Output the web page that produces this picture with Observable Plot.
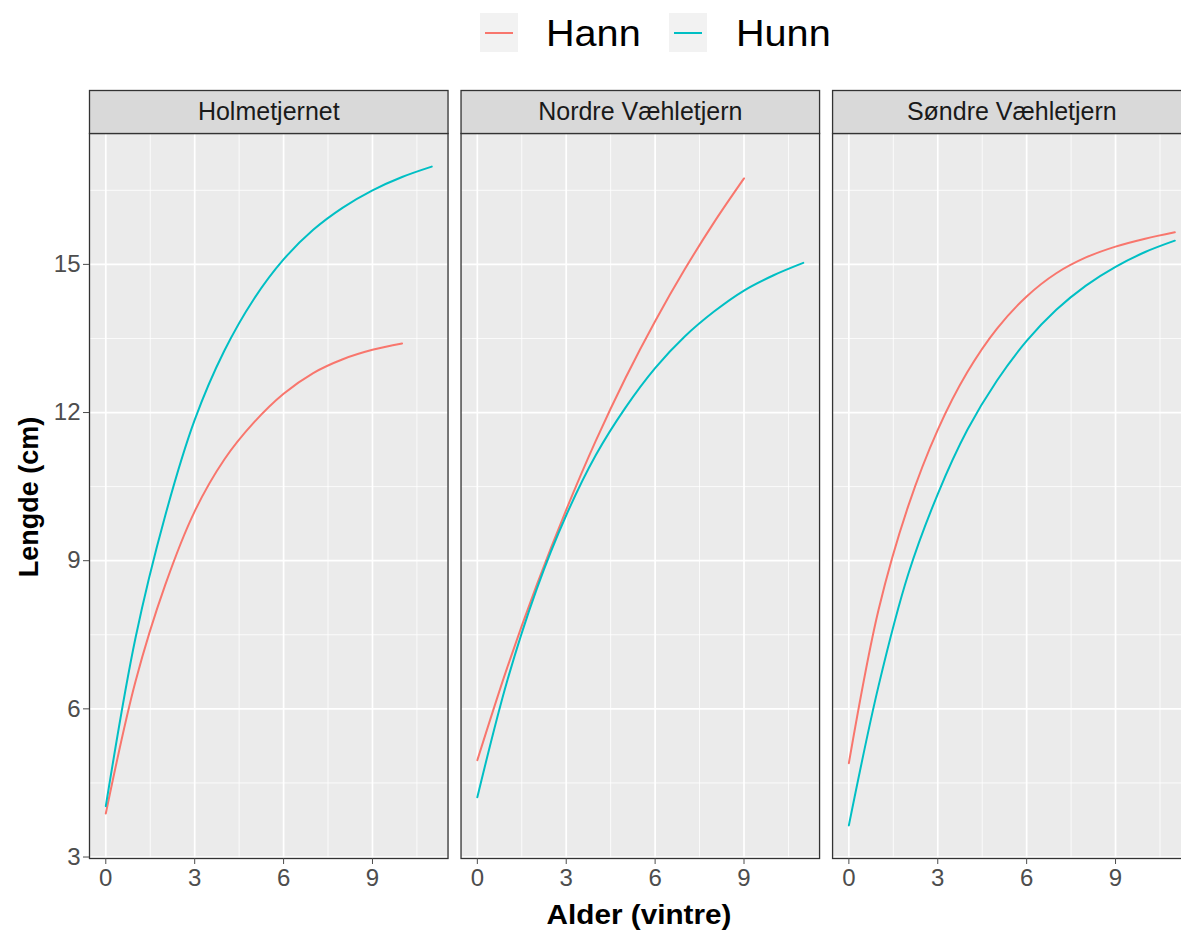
<!DOCTYPE html>
<html>
<head>
<meta charset="utf-8">
<script src="https://cdn.jsdelivr.net/npm/d3@7"></script>
<script src="https://cdn.jsdelivr.net/npm/@observablehq/plot@0.6"></script>
<style>
  html, body { margin: 0; padding: 0; background: #ffffff; }
  body { width: 1181px; height: 935px; overflow: hidden; position: relative;
         font-family: "Liberation Sans", Arial, sans-serif; }
  #chart { position: absolute; left: 0; top: 88px; width: 1200px; }
  #chart svg { max-width: none !important; }
  .legend-key { position: absolute; top: 13px; width: 38px; height: 39px; background: #F2F2F2; }
  .legend-key span { position: absolute; left: 5px; top: 18.5px; width: 28px; height: 2px; }
  .legend-label { position: absolute; top: 34px; transform: translateY(-50%) scaleX(1.1); transform-origin: left center;
                  font-size: 36px; color: #000; line-height: 1; }
  #xtitle { position: absolute; left: 639px; top: 915px; transform: translate(-50%, -50%) scaleX(1.1);
            font-size: 27px; font-weight: bold; color: #000; white-space: nowrap; }
  #ytitle { position: absolute; left: 29px; top: 497px; transform: translate(-50%, -50%) rotate(-90deg);
            font-size: 27px; font-weight: bold; color: #000; white-space: nowrap; }
</style>
</head>
<body>
<div id="legend"></div>
<div id="chart"></div>
<div id="xtitle">Alder (vintre)</div>
<div id="ytitle">Lengde (cm)</div>
<script>
// ---- data ----
const lakes = ["Holmetjernet", "Nordre Væhletjern", "Søndre Væhletjern"];
const sexes = ["Hann", "Hunn"];
const sexColors = ["#F8766D", "#00BFC4"];
const xTicks = [0, 3, 6, 9];
const yTicks = [3, 6, 9, 12, 15];
const xMinor = [1.5, 4.5, 7.5, 10.5];
const yMinor = [4.5, 7.5, 10.5, 13.5, 16.5];

const holmHannAge = [0, 1, 2, 3, 4, 5, 6, 7, 8, 9, 10];
const holmHannLen = [3.88, 6.55, 8.5, 10.0, 11.05, 11.8, 12.38, 12.8, 13.08, 13.27, 13.40];
const holmHunnAge = [0, 1, 2, 3, 4, 5, 6, 7, 8, 9, 10, 11];
const holmHunnLen = [4.03, 7.43, 9.9, 11.85, 13.25, 14.3, 15.1, 15.7, 16.15, 16.5, 16.77, 16.98];

const nordHannAge = [0, 1, 2, 3, 4, 5, 6, 7, 8, 9];
const nordHannLen = [4.96, 6.82, 8.5, 10.03, 11.43, 12.7, 13.85, 14.9, 15.86, 16.74];
const nordHunnAge = [0, 1, 2, 3, 4, 5, 6, 7, 8, 9, 10, 11];
const nordHunnLen = [4.21, 6.55, 8.42, 9.92, 11.14, 12.1, 12.9, 13.54, 14.05, 14.47, 14.78, 15.03];

const sondHannAge = [0, 1, 2, 3, 4, 5, 6, 7, 8, 9, 10, 11];
const sondHannLen = [4.90, 8.0, 10.1, 11.65, 12.82, 13.7, 14.35, 14.82, 15.14, 15.36, 15.52, 15.65];
const sondHunnAge = [0, 1, 2, 3, 4, 5, 6, 7, 8, 9, 10, 11];
const sondHunnLen = [3.64, 6.46, 8.72, 10.35, 11.65, 12.65, 13.45, 14.08, 14.57, 14.95, 15.25, 15.48];

// ---- build table ----
const rows = [];
function add(lake, sex, ages, lens) {
  ages.forEach((a, i) => rows.push({lake, sex, age: a, len: lens[i]}));
}
add(lakes[0], sexes[0], holmHannAge, holmHannLen);
add(lakes[0], sexes[1], holmHunnAge, holmHunnLen);
add(lakes[1], sexes[0], nordHannAge, nordHannLen);
add(lakes[1], sexes[1], nordHunnAge, nordHunnLen);
add(lakes[2], sexes[0], sondHannAge, sondHannLen);
add(lakes[2], sexes[1], sondHunnAge, sondHunnLen);

// ---- legend ----
const legend = document.getElementById("legend");
const keyLefts = [480, 669];
const labelLefts = [546, 736];
sexes.forEach((s, i) => {
  const k = document.createElement("div");
  k.className = "legend-key";
  k.style.left = keyLefts[i] + "px";
  const ln = document.createElement("span");
  ln.style.background = sexColors[i];
  k.appendChild(ln);
  legend.appendChild(k);
  const t = document.createElement("div");
  t.className = "legend-label";
  t.style.left = labelLefts[i] + "px";
  t.textContent = s;
  legend.appendChild(t);
});

// ---- chart ----
const H = 810, MT = 45, MB = 40;
const frameH = H - MT - MB;
const chart = Plot.plot({
  width: 1200,
  height: H,
  marginTop: MT,
  marginBottom: MB,
  marginLeft: 89,
  marginRight: 9.4,
  style: {fontFamily: "Liberation Sans, Arial, sans-serif", fontSize: "24px", background: "transparent", overflow: "visible", maxWidth: "none"},
  fx: {domain: lakes, paddingInner: 0.035, paddingOuter: 0, round: false},
  x: {domain: [-0.55, 11.55]},
  y: {domain: [2.97, 17.65]},
  color: {domain: sexes, range: sexColors},
  marks: [
    Plot.frame({fill: "#EBEBEB"}),
    Plot.gridX(xMinor, {stroke: "#ffffff", strokeOpacity: 1, strokeWidth: 0.8}),
    Plot.gridY(yMinor, {stroke: "#ffffff", strokeOpacity: 1, strokeWidth: 0.8}),
    Plot.gridX(xTicks, {stroke: "#ffffff", strokeOpacity: 1, strokeWidth: 1.7}),
    Plot.gridY(yTicks, {stroke: "#ffffff", strokeOpacity: 1, strokeWidth: 1.7}),
    Plot.line(rows, {fx: "lake", x: "age", y: "len", z: "sex", stroke: "sex", strokeWidth: 2, curve: "catmull-rom"}),
    Plot.frame({stroke: "#333333", strokeWidth: 1.3}),
    Plot.frame({fill: "#D9D9D9", stroke: "#333333", strokeWidth: 1.3, insetTop: -43, insetBottom: frameH}),
    Plot.text(lakes, {fx: d => d, text: d => d, frameAnchor: "top", lineAnchor: "middle", dy: -21.5, fontSize: 25, fill: "#1A1A1A"}),
    Plot.axisX(xTicks, {tickSize: 6, tickPadding: 4, fontSize: 24, color: "#4D4D4D", label: null}),
    Plot.axisY(yTicks, {tickSize: 6, tickPadding: 3, fontSize: 24, color: "#4D4D4D", label: null}),
    Plot.axisFx({axis: null, label: null, ticks: []})
  ]
});
document.getElementById("chart").appendChild(chart);
</script>
</body>
</html>
